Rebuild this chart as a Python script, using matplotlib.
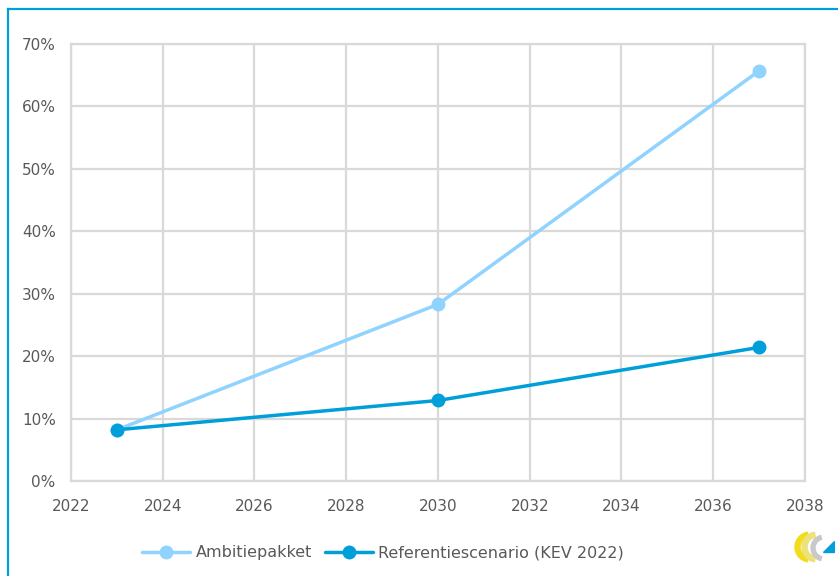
import matplotlib
matplotlib.use("Agg")
import matplotlib.pyplot as plt
from matplotlib.lines import Line2D
from matplotlib.patches import Polygon, Wedge
from matplotlib.ticker import FuncFormatter

years = [2023, 2030, 2037]
ambitiepakket = [8.2, 28.3, 65.7]
referentie = [8.2, 12.9, 21.4]
series_labels = ["Ambitiepakket", "Referentiescenario (KEV 2022)"]
x_ticks = list(range(2022, 2039, 2))
y_ticks = list(range(0, 71, 10))

light_blue = "#8fd3fe"
dark_blue = "#009fda"
grid_col = "#d9d9d9"
text_col = "#595959"

plt.rcParams["font.family"] = ["DejaVu Sans"]

fig = plt.figure(figsize=(8.38, 5.76), dpi=100)
ax = fig.add_axes([0.0847, 0.1649, 0.8759, 0.7587])

ax.plot(years, ambitiepakket, color=light_blue, lw=2.5, marker="o", ms=9,
        label=series_labels[0], zorder=3, solid_capstyle="round")
ax.plot(years, referentie, color=dark_blue, lw=2.5, marker="o", ms=9,
        label=series_labels[1], zorder=4, solid_capstyle="round")

ax.set_xlim(2022, 2038)
ax.set_ylim(0, 70)
ax.set_xticks(x_ticks)
ax.set_yticks(y_ticks)
ax.yaxis.set_major_formatter(FuncFormatter(lambda v, p: f"{v:.0f}%"))
ax.grid(True, color=grid_col, lw=1.6)
ax.set_axisbelow(True)
for s in ax.spines.values():
    s.set_color(grid_col)
    s.set_linewidth(1.6)
ax.tick_params(length=0, labelsize=11, colors=text_col)
ax.tick_params(axis="y", pad=11)
ax.tick_params(axis="x", pad=13)

leg = fig.legend(loc="center", bbox_to_anchor=(0.457, 0.04), ncol=2, frameon=False,
                 fontsize=11.5, handlelength=3.0, columnspacing=0.8, handletextpad=0.35)
for t in leg.get_texts():
    t.set_color(text_col)

# frame lines along top and left edge
fig.add_artist(Line2D([0.0095, 1.0], [0.984, 0.984], transform=fig.transFigure,
                      color=dark_blue, lw=1.6))
fig.add_artist(Line2D([0.0095, 0.0095], [0.0, 0.984], transform=fig.transFigure,
                      color=dark_blue, lw=1.6))

# small logo in the lower right corner, drawn in its own square axes
lax = fig.add_axes([793 / 838, 1 - 566 / 576, 42 / 838, 38 / 576])
lax.set_xlim(0, 42)
lax.set_ylim(0, 38)
lax.set_aspect("equal")
lax.axis("off")
lax.add_patch(Wedge((17, 19), 15, 100, 260, width=5, color="#f2dc1c"))
lax.add_patch(Wedge((24, 19), 15, 100, 260, width=5, color="#ece27a"))
lax.add_patch(Wedge((31, 18), 13, 105, 255, width=4, color="#c9c9c9"))
lax.add_patch(Polygon([[30, 14], [41, 14], [41, 25]], closed=True, color=dark_blue))

fig.savefig("out.png", dpi=100, facecolor="white")
